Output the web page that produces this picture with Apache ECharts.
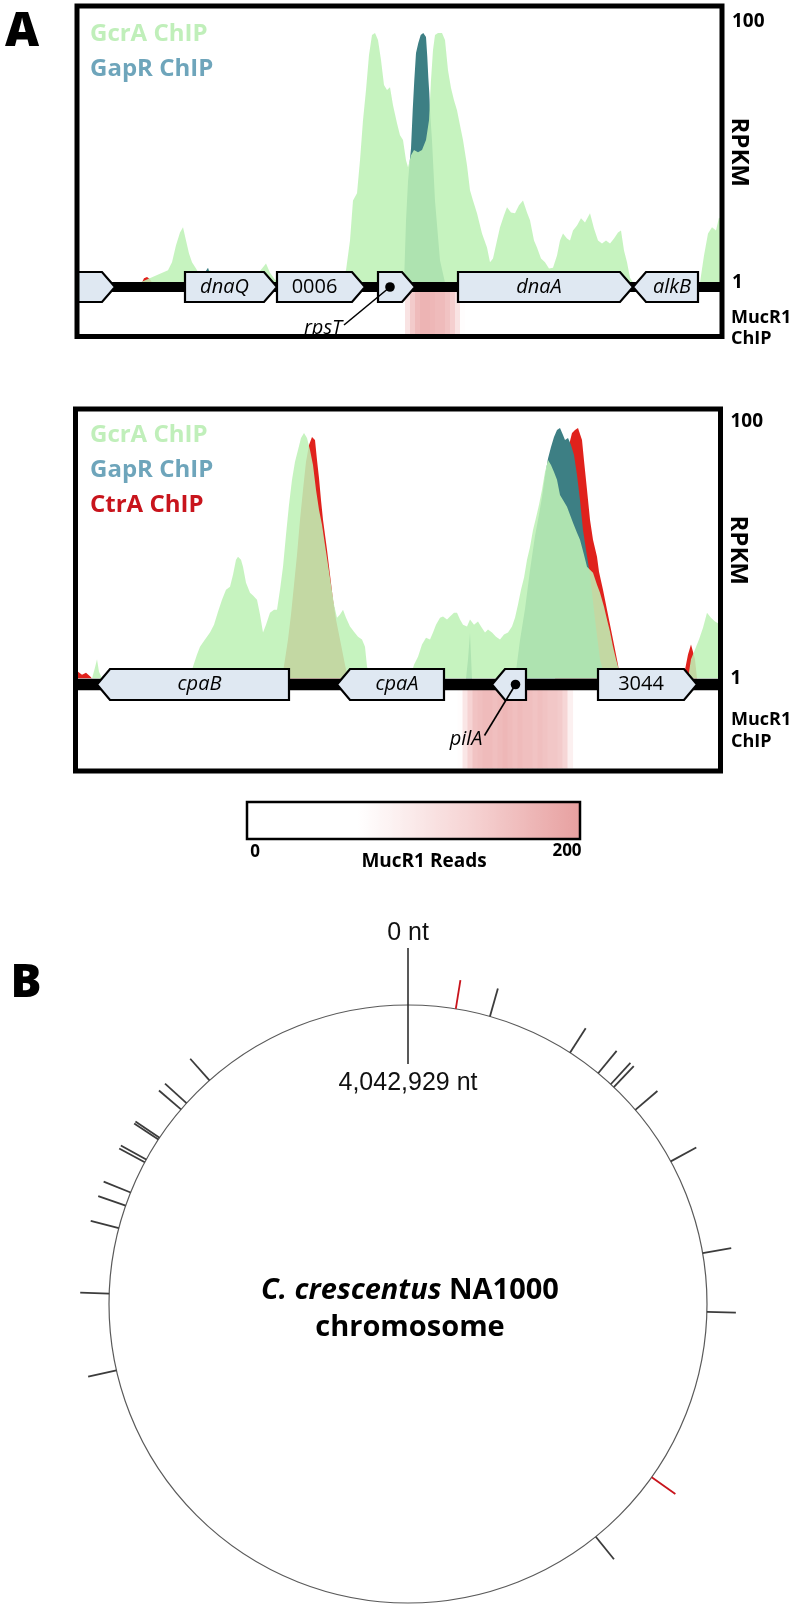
<!DOCTYPE html>
<html><head><meta charset="utf-8">
<script src="https://cdn.jsdelivr.net/npm/echarts@6/dist/echarts.min.js"></script>
<style>html,body{margin:0;padding:0;background:#fff}#c{width:796px;height:1605px}</style>
</head><body><div id="c"></div>
<script>
// ================= DATA =================
const TRACK_NAMES = ['GcrA ChIP', 'GapR ChIP', 'CtrA ChIP'];
const WINDOW_LEN = 645;            // window position units
const RPKM_TICKS = [1, 100];

// Panel A (top): dnaA / origin region — [position, RPKM]
const TOP_GCRA = [[0,1],[23,1],[63,1],[91,1.24],[95,1.43],[99,1.93],[103,2.42],[106,2.65],[109,2.10],[112,1.67],[115,1.43],[119,1.28],[123,1.13],[128,1.2],[133,1.24],[138,1.12],[143,1.09],[153,1.03],[163,1.04],[178,1.1],[185,1.28],[189,1.40],[193,1.19],[198,1.05],[203,1.02],[223,1],[263,1],[269,1.24],[273,2.10],[276,4.27],[280,4.84],[283,8.68],[286,17.6],[289,30.0],[292,55.7],[295,79.4],[298,82.3],[301,72.7],[304,51.0],[307,32.8],[310,30.0],[313,31.6],[316,23.0],[320,16.7],[323,13.5],[326,12.4],[329,8.68],[331,7.67],[334,9.5],[337,10.4],[341,10.0],[345,10.4],[349,12.4],[352,17.6],[354,35.8],[356,60.9],[358,79.4],[361,82.3],[365,82.3],[368,72.7],[371,42.7],[374,31.1],[377,25.1],[380,21.0],[383,16.1],[386,12.4],[390,7.94],[393,5.10],[396,4.27],[400,3.40],[405,2.38],[410,1.86],[413,1.43],[416,1.53],[420,2.10],[423,2.65],[427,3.28],[430,3.78],[434,3.45],[438,3.40],[442,3.91],[446,4.27],[450,3.45],[453,3.00],[457,2.10],[460,1.86],[464,1.53],[468,1.43],[472,1.28],[476,1.30],[480,1.61],[483,2.10],[486,2.38],[490,2.18],[493,2.10],[496,2.51],[500,2.74],[504,3.11],[508,2.89],[513,3.40],[517,2.60],[521,2.10],[525,1.99],[529,2.10],[533,1.99],[537,2.18],[541,2.42],[544,2.51],[547,1.76],[550,1.43],[553,1.09],[556,1],[623,1],[627,1.61],[631,2.38],[635,2.65],[639,2.51],[642,3.16],[645,3.00]];
const TOP_GAPR = [[0,1],[125,1],[128,1.2],[131,1.3],[134,1.1],[137,1],[327,1],[329,3],[331,6],[333,9],[334,10.7],[335.7,21.0],[337.3,35.8],[339,57.8],[341.3,68.9],[343.7,79.4],[346.3,82.3],[349,76.7],[350.3,53.8],[351.3,37.7],[352.3,28.4],[353,21.0],[355,12.4],[358,4.27],[363,1.48],[368,1],[645,1]];
const TOP_CTRA = [[0,1],[65,1],[67,1.08],[70,1.1],[73,1.06],[75,1],[645,1]];

// Panel A (bottom): cpa / pilA region
const BOT_GCRA = [[0,1],[16.5,1],[19.5,1.22],[21.5,1.41],[23.5,1.13],[26.5,1],[114.5,1],[117.5,1.24],[121.5,1.54],[124.5,1.77],[129.5,2.01],[134.5,2.28],[138.5,2.63],[142.5,3.32],[146.5,4.12],[150.5,4.93],[154.5,5.20],[157.5,6.44],[160.5,8.43],[162.5,8.90],[165.5,8.43],[167.5,7.44],[170.5,5.58],[174.5,4.67],[177.5,4.43],[181.5,4.12],[184.5,3.15],[187.5,2.28],[190.5,2.63],[194.5,3.26],[198.5,3.44],[201.5,3.44],[204.5,4.93],[207.5,7.44],[210.5,13.2],[213.5,22.6],[216.5,35.4],[219.5,48.9],[222.5,60.5],[225.5,75.0],[228.5,82.1],[231.5,75.0],[234.5,60.5],[237.5,46.3],[240.5,29.6],[243.5,20.7],[246.5,15.8],[249.5,11.0],[252.5,7.71],[255.5,5.39],[258.5,3.77],[261.5,2.98],[264.5,3.15],[267.5,3.44],[270.5,2.98],[274.5,2.54],[278.5,2.32],[282.5,2.12],[286.5,2.01],[289.5,1.77],[291.5,1.24],[294.5,1],[334.5,1],[338.5,1.28],[342.5,1.48],[346.5,1.84],[350.5,2.08],[354.5,2.01],[357.5,2.28],[360.5,2.63],[364.5,2.98],[367.5,3.04],[371.5,2.88],[374.5,3.04],[378.5,3.26],[381.5,3.26],[384.5,2.88],[387.5,2.63],[391.5,2.54],[394.5,2.88],[398.5,2.63],[402.5,2.78],[405.5,2.54],[409.5,2.28],[412.5,2.41],[416.5,2.28],[420.5,2.12],[424.5,2.01],[428.5,2.20],[432.5,2.28],[436.5,2.54],[439.5,2.98],[442.5,3.77],[445.5,4.93],[448.5,6.11],[451.5,8.43],[454.5,10.6],[457.5,14.4],[460.5,17.9],[463.5,22.6],[466.5,29.6],[469.5,40.8],[472.5,50.6],[475.5,46.3],[478.5,40.8],[481.5,35.4],[484.5,27.0],[487.5,24.7],[491.5,21.8],[494.5,18.9],[497.5,16.4],[501.5,13.7],[504.5,12.1],[508.5,9.23],[511.5,7.44],[514.5,7.05],[517.5,6.68],[521.5,5.39],[524.5,4.67],[528.5,3.63],[531.5,2.88],[534.5,2.32],[537.5,1.77],[540.5,1.41],[542.5,1.24],[544.5,1],[612.5,1],[615.5,1.41],[619.5,1.68],[623.5,2.01],[627.5,2.49],[631.5,3.26],[635.5,2.98],[639.5,2.78],[645,2.63]];
const BOT_GAPR = [[0,1],[390.5,1],[392.5,1.41],[394.5,2.28],[396.5,1],[439.5,1],[444.5,2.0],[449.5,3.5],[454.5,7.0],[459.5,13.0],[463.5,19.0],[466.5,26.0],[469.5,38.0],[472.5,52.0],[475.5,63.8],[478.5,76.4],[481.5,86.7],[484.5,89.8],[487.5,79.2],[489.5,72.4],[492.5,75.0],[495.5,66.2],[498.5,55.3],[501.5,38.7],[504.5,24.7],[507.5,14.4],[510.5,10.1],[514.5,6.44],[519.5,2.88],[524.5,1.41],[529.5,1],[645,1]];
const BOT_CTRA = [[0,1],[2.5,1.13],[6.5,1.07],[10.5,1.11],[14.5,1.04],[16.5,1],[206.5,1],[209.5,1.41],[212.5,2.01],[215.5,3.15],[218.5,5.39],[221.5,9.23],[224.5,17.3],[227.5,29.6],[230.5,48.9],[233.5,66.2],[236.5,76.4],[237.5,78],[239.5,72.4],[241.5,50.6],[243.5,36.6],[245.5,24.7],[247.5,17.3],[249.5,13.2],[251.5,10.1],[254.5,6.44],[257.5,4.12],[260.5,2.88],[263.5,2.20],[266.5,1.68],[269.5,1.28],[272.5,1],[479.5,1],[482.5,4.12],[486.5,17.3],[490.5,42.4],[493.5,66.2],[496.5,82.1],[499.5,86.7],[502.5,89.8],[504.5,89.8],[506.5,72.4],[508.5,50],[511.5,29.6],[514.5,17.3],[517.5,12.1],[521.5,8.9],[523.5,6.8],[527.5,4.93],[531.5,3.44],[535.5,2.41],[539.5,1.68],[542.5,1.28],[544.5,1],[606.5,1],[609.5,1.17],[612.5,1.54],[615.5,1.84],[617.5,1.84],[619.5,1.41],[621.5,1],[645,1]];

// Genes: [start, end, strand]
const TOP_GENES = [[0,38,1],[108,200,1],[200,288,1],[301,338,1],[381,556,1],[556,621,-1]];
const TOP_GENE_LABELS = ['', 'dnaQ', '0006', 'rpsT', 'dnaA', 'alkB'];
const TOP_GENE_ITALIC = [0,1,0,1,1,1];
const TOP_GENE_CALLOUT = [0,0,0,1,0,0];
const BOT_GENES = [[21.5,213.5,-1],[261.5,368.5,-1],[416.5,450.5,-1],[522.5,621.5,1]];
const BOT_GENE_LABELS = ['cpaB', 'cpaA', 'pilA', '3044'];
const BOT_GENE_ITALIC = [1,1,1,0];
const BOT_GENE_CALLOUT = [0,0,1,0];
const BACKBONE = [[0,0.5],[645,0.5]];

// MucR1 ChIP reads: [bin start, reads]
const MUCR1_BIN = 5;
const MUCR1_RANGE = [0, 200];
const TOP_MUCR1 = [[318,15],[323,60],[328,110],[333,145],[338,165],[343,175],[348,175],[353,170],[358,165],[363,165],[368,155],[373,140],[378,110],[383,70],[388,30],[393,8]];
const BOT_MUCR1 = [[372,10],[377,35],[382,70],[387,105],[392,135],[397,155],[402,160],[407,165],[412,165],[417,160],[422,165],[427,170],[432,165],[437,160],[442,165],[447,160],[452,160],[457,155],[462,160],[467,155],[472,150],[477,150],[482,145],[487,130],[492,90]];

// Panel B: chromosome
const GENOME_LENGTH = 4042929;
const PEAK_POS = [103300,178600,368400,443600,479500,488500,555900,690700,900700,1027600,1408300,1584600,2888400,3054700,3197300,3247800,3278100,3350000,3356800,3407300,3411800,3488200,3506100,3575700];
const PEAK_KIND = [1,0,0,0,0,0,0,0,0,0,1,0,0,0,0,0,0,0,0,0,0,0,0,0]; // 1 = red

// ================= STYLE =================
const SANS = '"Open Sans", "Noto Sans", sans-serif';
const C_GCRA = 'rgba(190,241,182,0.88)';
const C_GAPR = '#3d7f84';
const C_CTRA = '#e0221c';
const GENE_ARROW = 13;
const CALLOUT = { top: {line:[-46,38], text:[-48,41]}, bot: {line:[-31,51], text:[-33,55]} };
const LAYOUT = {
  top: {left:77, frameTop:6, frameH:330.5, chipTop:22, chipH:260.5, geneTop:272, geneH:30, mucTop:292, mucH:42, backbone:10},
  bot: {left:75.5, frameTop:409, frameH:362, chipTop:422, chipH:256.5, geneTop:669, geneH:31, mucTop:690, mucH:78.5, backbone:11.5}
};
const W = 645;

function makeGeneRenderer(labels, italics, callouts, off) {
  return function (params, api) {
    const i = params.dataIndex;
    const s = api.value(0), e = api.value(1), dir = api.value(2);
    const ps = api.coord([s, 1]), pe = api.coord([e, 0]);
    const x0 = ps[0], x1 = pe[0], yT = ps[1], yB = pe[1], yM = (yT + yB) / 2;
    const H = GENE_ARROW;
    let pts, bx0, bx1;
    if (dir > 0) { pts = [[x0,yT],[x1-H,yT],[x1,yM],[x1-H,yB],[x0,yB]]; bx0 = x0; bx1 = x1 - H; }
    else { pts = [[x0,yM],[x0+H,yT],[x1,yT],[x1,yB],[x0+H,yB]]; bx0 = x0 + H; bx1 = x1; }
    const cx = (bx0 + bx1) / 2;
    const font = (italics[i] ? 'italic ' : '') + '20px ' + SANS;
    const children = [{type:'polygon', shape:{points:pts}, style:{fill:'#dfe8f2', stroke:'#000', lineWidth:2.2, lineJoin:'miter'}}];
    if (callouts[i]) {
      children.push({type:'line', shape:{x1:cx, y1:yM, x2:cx+off.line[0], y2:yM+off.line[1]}, style:{stroke:'#000', lineWidth:1.6}});
      children.push({type:'circle', shape:{cx:cx, cy:yM, r:4.8}, style:{fill:'#000'}});
      children.push({type:'text', x:cx+off.text[0], y:yM+off.text[1], style:{text:labels[i], align:'right', verticalAlign:'middle', font:font, fill:'#000'}});
    } else if (labels[i]) {
      children.push({type:'text', x:cx, y:yM, style:{text:labels[i], align:'center', verticalAlign:'middle', font:font, fill:'#000'}});
    }
    return {type:'group', children: children};
  };
}

function renderMucR1(params, api) {
  const x0 = api.value(0);
  const a = api.coord([x0, 1]);
  const b = api.coord([x0 + MUCR1_BIN, 0]);
  return {type:'rect', shape:{x:a[0], y:a[1], width:b[0]-a[0]+0.6, height:b[1]-a[1]}, style:{fill: api.visual('color')}};
}

function renderPeak(params, api) {
  const pos = api.value(1);
  const p = api.coord([1, pos]), c = api.coord([0, pos]);
  const dx = p[0]-c[0], dy = p[1]-c[1], L = Math.hypot(dx, dy);
  const ux = dx / L, uy = dy / L;
  const red = api.value(2) === 1;
  return {type:'line', shape:{x1:p[0], y1:p[1], x2:p[0]+ux*29, y2:p[1]+uy*29},
          style:{stroke: red ? '#c8141c' : '#3c3c3c', lineWidth: 1.8}};
}

function renderOrigin(params, api) {
  const pos = api.value(1);
  const p = api.coord([1, pos]), c = api.coord([0, pos]);
  const dx = p[0]-c[0], dy = p[1]-c[1], L = Math.hypot(dx, dy);
  const ux = dx / L, uy = dy / L;
  const f = '25px "Liberation Sans", Arial, sans-serif';
  return {type:'group', children:[
    {type:'line', shape:{x1:p[0]-ux*59, y1:p[1]-uy*59, x2:p[0]+ux*57, y2:p[1]+uy*57}, style:{stroke:'#222', lineWidth:1.5}},
    {type:'text', x:p[0]+ux*72, y:p[1]+uy*72, style:{text: pos + ' nt', align:'center', verticalAlign:'middle', font:f, fill:'#111'}},
    {type:'text', x:p[0]-ux*78, y:p[1]-uy*78, style:{text: GENOME_LENGTH.toLocaleString('en-US') + ' nt', align:'center', verticalAlign:'middle', font:f, fill:'#111'}}
  ]};
}

// ================= OPTION =================
const grids = [], xAxes = [], yAxes = [];
function addPanel(L) {
  const base = grids.length;
  grids.push({left:L.left, top:L.frameTop, width:W, height:L.frameH, show:true, borderColor:'#000', borderWidth:5, backgroundColor:'transparent', z:10});
  grids.push({left:L.left, top:L.chipTop, width:W, height:L.chipH});
  grids.push({left:L.left, top:L.geneTop, width:W, height:L.geneH});
  grids.push({left:L.left, top:L.mucTop, width:W, height:L.mucH});
  for (let k = 0; k < 4; k++) {
    xAxes.push({type:'value', gridIndex:base+k, min:0, max:WINDOW_LEN, show:false});
  }
  yAxes.push({type:'value', gridIndex:base, min:0, max:1, show:false});
  yAxes.push({type:'log', logBase:10, gridIndex:base+1, min:1, max:100, position:'right',
    axisLine:{show:false}, axisTick:{show:false}, splitLine:{show:false},
    axisLabel:{margin:10, color:'#000', fontFamily:SANS, fontWeight:'bold', fontSize:19,
      formatter: function (v) { const r = Math.round(v); return (Math.abs(v - r) < 1e-6 && RPKM_TICKS.indexOf(r) >= 0) ? String(r) : ''; }},
    name:'RPKM', nameLocation:'middle', nameRotate:-90, nameGap:5, nameMoveOverlap:false,
    nameTextStyle:{color:'#000', fontFamily:SANS, fontWeight:'bold', fontSize:24}});
  yAxes.push({type:'value', gridIndex:base+2, min:0, max:1, show:false});
  yAxes.push({type:'value', gridIndex:base+3, min:0, max:1, show:false});
  return base;
}
const tb = addPanel(LAYOUT.top);
const bb = addPanel(LAYOUT.bot);

function chip(name, data, color, gi, z) {
  return {name:name, type:'line', xAxisIndex:gi, yAxisIndex:gi, data:data, showSymbol:false, symbol:'none',
    lineStyle:{width:0}, areaStyle:{color:color, opacity:1, origin:'start'}, z:z, silent:true, animation:false};
}
const series = [
  chip(TRACK_NAMES[2], TOP_CTRA, C_CTRA, tb+1, 2),
  chip(TRACK_NAMES[1], TOP_GAPR, C_GAPR, tb+1, 3),
  chip(TRACK_NAMES[0], TOP_GCRA, C_GCRA, tb+1, 4),
  {type:'line', xAxisIndex:tb+2, yAxisIndex:tb+2, data:BACKBONE, symbol:'none', lineStyle:{color:'#000', width:LAYOUT.top.backbone}, z:5, silent:true},
  {type:'custom', xAxisIndex:tb+2, yAxisIndex:tb+2, data:TOP_GENES, renderItem: makeGeneRenderer(TOP_GENE_LABELS, TOP_GENE_ITALIC, TOP_GENE_CALLOUT, CALLOUT.top), clip:false, z:6, silent:true},
  {type:'custom', name:'MucR1 top', xAxisIndex:tb+3, yAxisIndex:tb+3, data:TOP_MUCR1, renderItem: renderMucR1, z:1, silent:true},
  chip(TRACK_NAMES[2], BOT_CTRA, C_CTRA, bb+1, 2),
  chip(TRACK_NAMES[1], BOT_GAPR, C_GAPR, bb+1, 3),
  chip(TRACK_NAMES[0], BOT_GCRA, C_GCRA, bb+1, 4),
  {type:'line', xAxisIndex:bb+2, yAxisIndex:bb+2, data:BACKBONE, symbol:'none', lineStyle:{color:'#000', width:LAYOUT.bot.backbone}, z:5, silent:true},
  {type:'custom', xAxisIndex:bb+2, yAxisIndex:bb+2, data:BOT_GENES, renderItem: makeGeneRenderer(BOT_GENE_LABELS, BOT_GENE_ITALIC, BOT_GENE_CALLOUT, CALLOUT.bot), clip:false, z:6, silent:true},
  {type:'custom', name:'MucR1 bottom', xAxisIndex:bb+3, yAxisIndex:bb+3, data:BOT_MUCR1, renderItem: renderMucR1, z:1, silent:true},
  {type:'custom', coordinateSystem:'polar', polarIndex:0, data: PEAK_POS.map((p, i) => [1, p, PEAK_KIND[i]]), renderItem: renderPeak, clip:false, silent:true, encode:{radius:0, angle:1}},
  {type:'custom', coordinateSystem:'polar', polarIndex:0, data: [[1, 0]], renderItem: renderOrigin, clip:false, silent:true, encode:{radius:0, angle:1}}
];

const legendText = {fontFamily:SANS, fontWeight:'bold', fontSize:24, lineHeight:30};
const option = {
  animation:false,
  backgroundColor:'#fff',
  grid: grids, xAxis: xAxes, yAxis: yAxes,
  polar: {center:[408, 1304], radius:299},
  angleAxis: {type:'value', min:0, max:GENOME_LENGTH, startAngle:90, clockwise:true,
    axisLine:{show:true, lineStyle:{color:'#5a5a5a', width:1.2}}, axisTick:{show:false}, axisLabel:{show:false}, splitLine:{show:false}},
  radiusAxis: {type:'value', min:0, max:1, show:false},
  legend: [
    {orient:'vertical', left:80, top:14, icon:'none', itemWidth:0, itemHeight:10, itemGap:5, selectedMode:false, padding:5, textStyle:legendText,
     data:[{name:TRACK_NAMES[0], textStyle:{color:'#c0efba'}}, {name:TRACK_NAMES[1], textStyle:{color:'#6ea5bb'}}]},
    {orient:'vertical', left:80, top:415, icon:'none', itemWidth:0, itemHeight:10, itemGap:5, selectedMode:false, padding:5, textStyle:legendText,
     data:[{name:TRACK_NAMES[0], textStyle:{color:'#c0efba'}}, {name:TRACK_NAMES[1], textStyle:{color:'#6ea5bb'}}, {name:TRACK_NAMES[2], textStyle:{color:'#c8141c'}}]}
  ],
  visualMap: {type:'continuous', min:MUCR1_RANGE[0], max:MUCR1_RANGE[1], dimension:1, seriesIndex:[5, 11],
    orient:'horizontal', left:247, top:802, itemWidth:37, itemHeight:333, calculable:false, hoverLink:false,
    padding:0, text:null, inRange:{color:['#ffffff', '#ffffff', '#f6d4d4', '#e7a0a0']}},
  graphic: [
    {type:'text', x:22, y:33, style:{text:'A', align:'center', verticalAlign:'middle', font:'800 47px ' + SANS, fill:'#000'}},
    {type:'text', x:26, y:984, style:{text:'B', align:'center', verticalAlign:'middle', font:'800 46px ' + SANS, fill:'#000'}},
    {type:'text', x:731, y:328, style:{text:'MucR1\nChIP', align:'left', verticalAlign:'middle', font:'bold 18px ' + SANS, lineHeight:21, fill:'#000'}},
    {type:'text', x:731, y:731, style:{text:'MucR1\nChIP', align:'left', verticalAlign:'middle', font:'bold 18px ' + SANS, lineHeight:22, fill:'#000'}},
    {type:'rect', shape:{x:247, y:802, width:333, height:37}, style:{fill:'none', stroke:'#000', lineWidth:2.5}, z:100},
    {type:'text', x:255, y:852, style:{text:String(MUCR1_RANGE[0]), align:'center', verticalAlign:'middle', font:'bold 17px ' + SANS, fill:'#000'}},
    {type:'text', x:567, y:851, style:{text:String(MUCR1_RANGE[1]), align:'center', verticalAlign:'middle', font:'bold 17px ' + SANS, fill:'#000'}},
    {type:'text', x:424, y:862, style:{text:'MucR1 Reads', align:'center', verticalAlign:'middle', font:'bold 19px ' + SANS, fill:'#000'}},
    {type:'text', x:410, y:1309, style:{text:'{i|C. crescentus} NA1000\nchromosome', align:'center', verticalAlign:'middle',
      font:'bold 29px ' + SANS, lineHeight:37, fill:'#000', rich:{i:{fontStyle:'italic', fontWeight:'bold', fontSize:29, fontFamily:SANS, lineHeight:37}}}}
  ],
  series: series
};
const chart = echarts.init(document.getElementById('c'), null, {renderer:'canvas'});
chart.setOption(option);
</script></body></html>
